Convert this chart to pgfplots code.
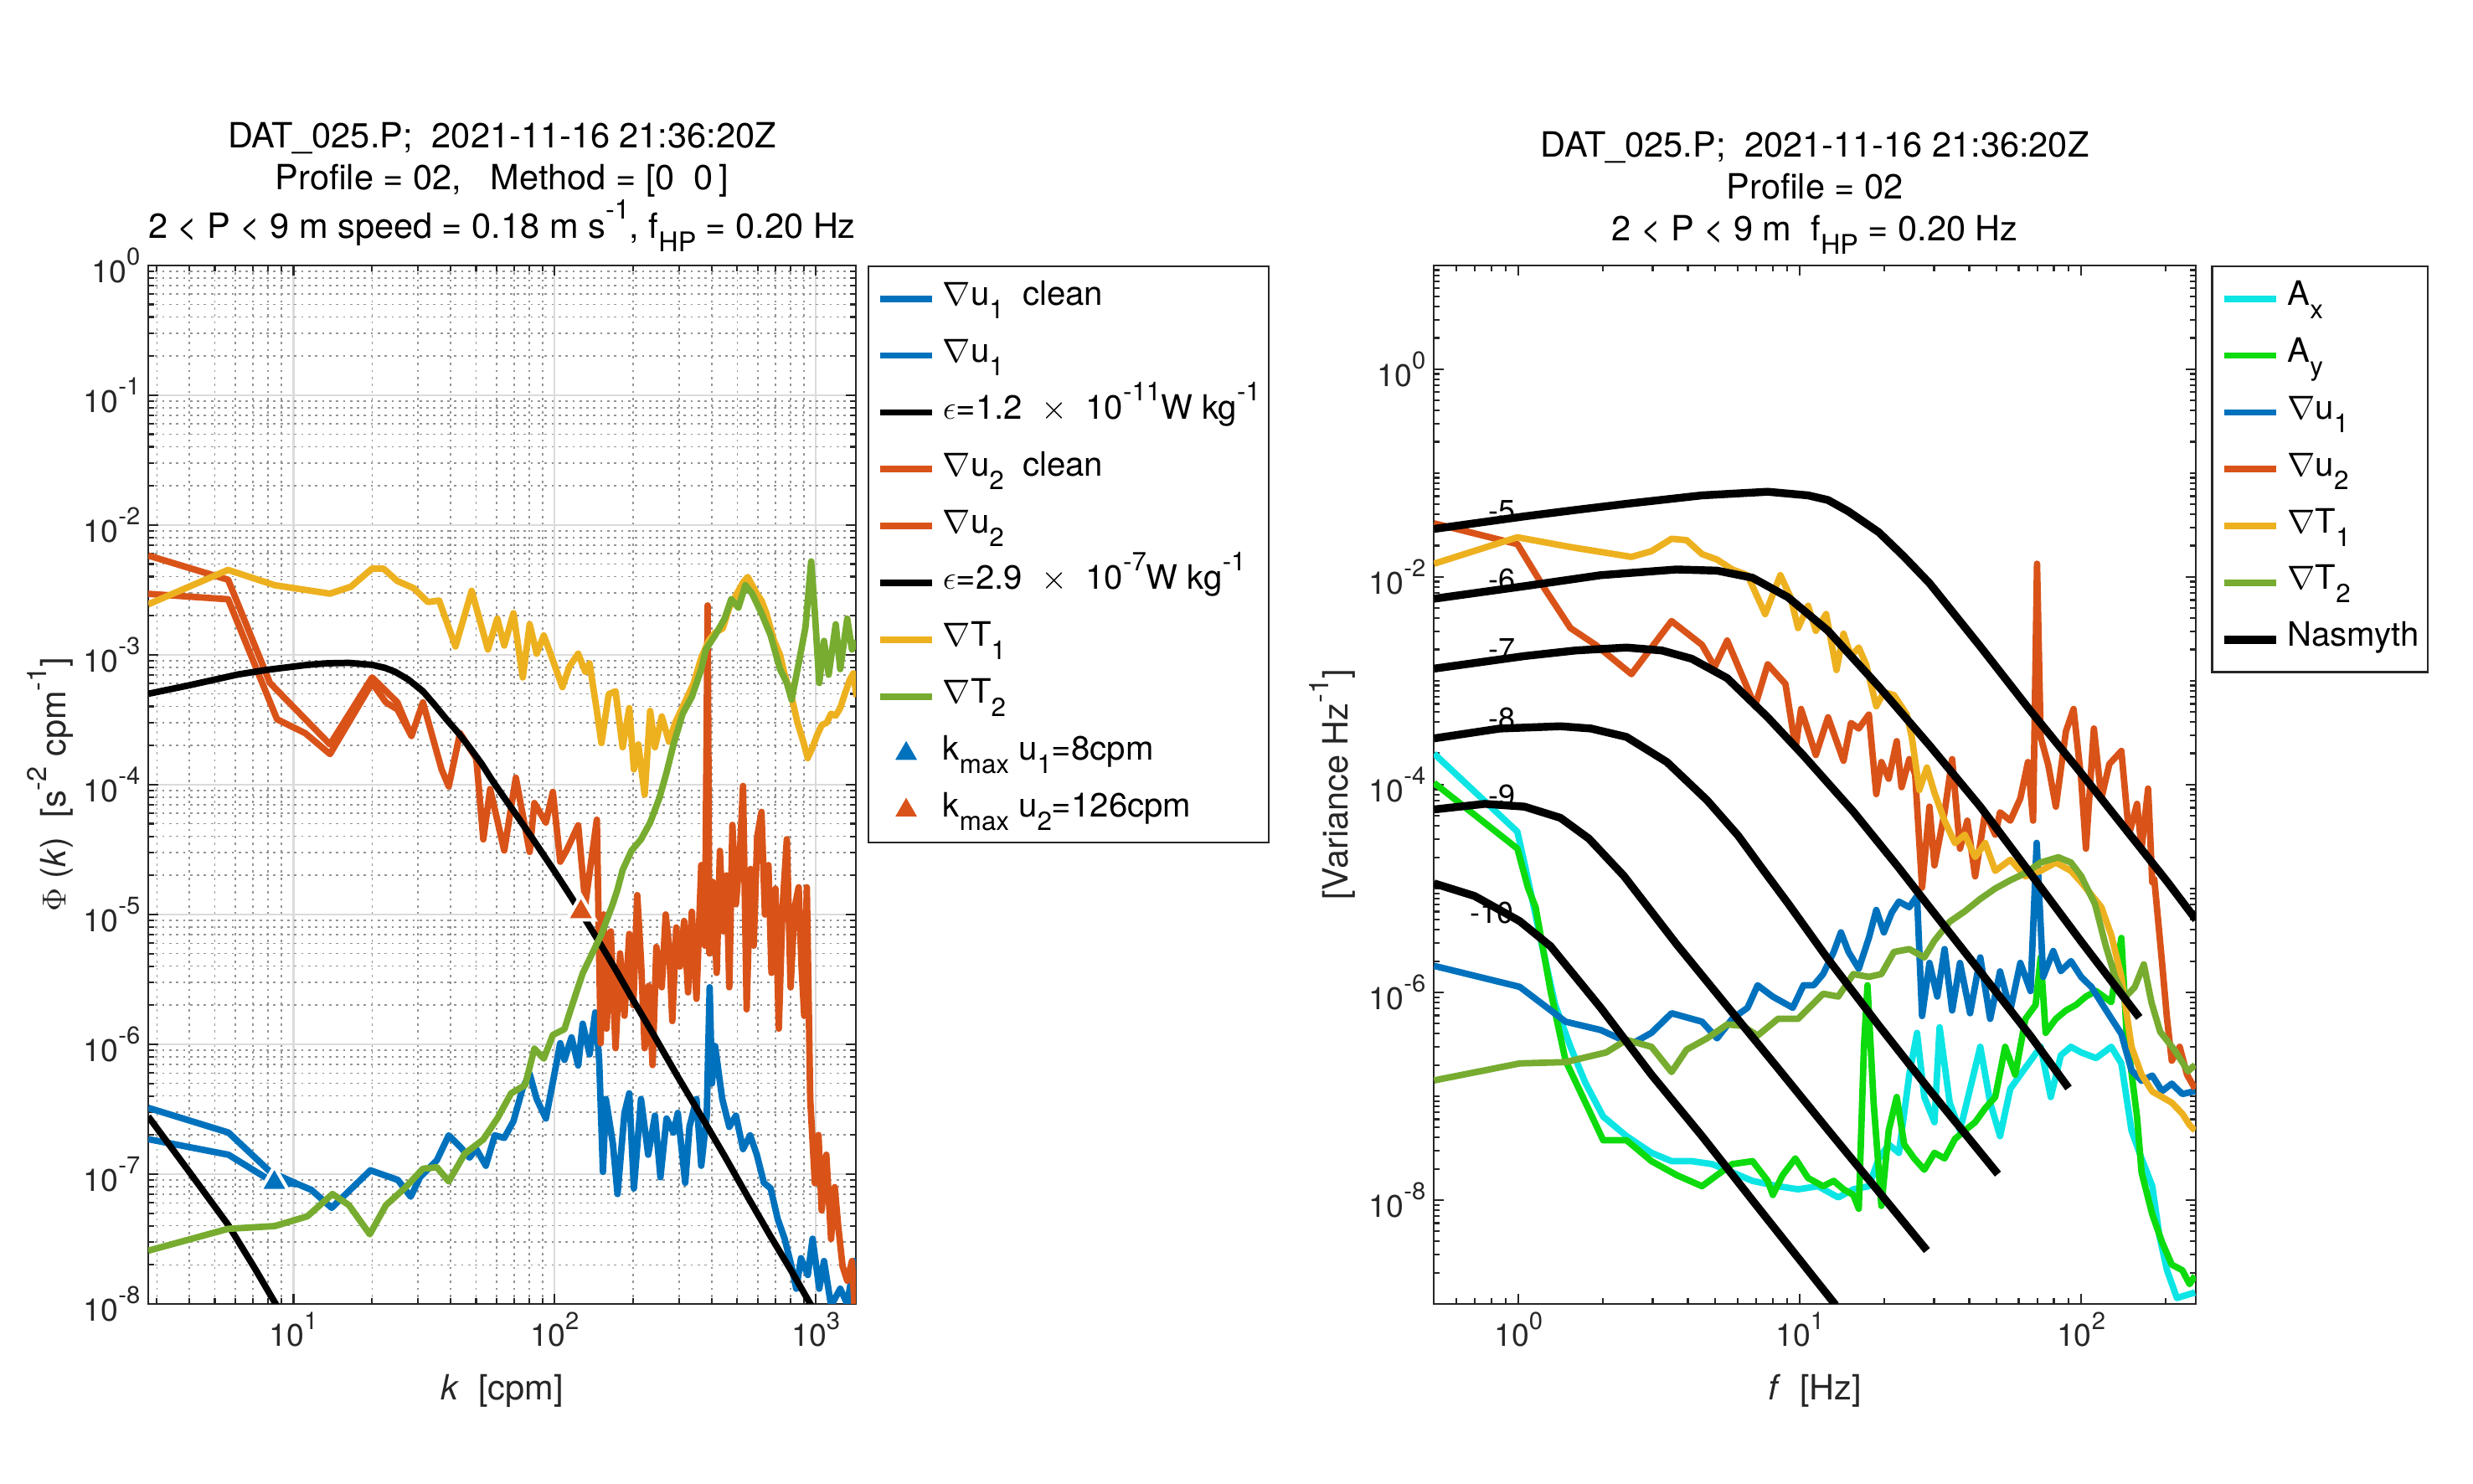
\documentclass[border=0pt]{standalone}
\usepackage{fontspec}
\setmainfont{TeX Gyre Heros}
\usepackage{graphicx}
\usepackage{pgfplots}
\pgfplotsset{compat=1.18}
\definecolor{mblue}{rgb}{0,0.447,0.741}
\definecolor{morange}{rgb}{0.85,0.325,0.098}
\definecolor{myellow}{rgb}{0.929,0.694,0.125}
\definecolor{mgreen}{rgb}{0.466,0.674,0.188}
\definecolor{mcyan}{rgb}{0.05,0.9,0.9}
\definecolor{mlime}{rgb}{0.05,0.86,0.05}
\definecolor{axgray}{gray}{0.15}
\newcommand{\tickfont}{\fontsize{13.5}{16}\selectfont}
\newcommand{\labfont}{\fontsize{15}{18}\selectfont}
\newcommand{\legfont}{\fontsize{14.5}{17}\selectfont}
\newcommand{\numfont}{\fontsize{13}{15}\selectfont}
\newcommand{\sbs}[1]{\raisebox{-0.4em}{\scalebox{0.78}{#1}}}
\newcommand{\sps}[1]{\raisebox{0.55em}{\scalebox{0.78}{#1}}}
\tikzset{myline/.style={line width=2.8pt, line join=round}}
\begin{document}
\begin{tikzpicture}
\path[use as bounding box] (0,0) rectangle (37.5cm,22.49cm);
% ================= LEFT =================
\begin{axis}[
  xmode=log, ymode=log, scale only axis,
  at={(2.248cm,2.718cm)}, anchor=south west,
  width=10.73cm, height=15.748cm,
  xmin=2.78, xmax=1422, ymin=1e-8, ymax=1,
  tick pos=both, tick align=inside,
  major tick length=0.157cm, minor tick length=0.09cm,
  tick style={axgray, line width=0.8pt},
  axis line style={axgray, line width=0.9pt},
  tick label style={font=\tickfont, text=axgray},
  title style={at={(0.5,1)}, anchor=south, font=\labfont, align=center, yshift=-0.13cm},
  xlabel style={at={(axis description cs:0.5,-0.0838)}, anchor=center, font=\labfont, text=axgray},
  ylabel style={at={(axis description cs:-0.1385,0.5)}, anchor=center, font=\labfont, text=axgray},
  legend image code/.code={\draw[mark repeat=2,mark phase=2,#1] plot coordinates {(0cm,0cm) (0.39cm,0cm) (0.787cm,0cm)};},
  legend cell align=left,
  xtick={10,100,1000},
  xticklabels={10\sps{1},10\sps{2},10\sps{3}},
  minor xtick={3,4,5,6,7,8,9,20,30,40,50,60,70,80,90,200,300,400,500,600,700,800,900},
  ytick={1e-8,1e-7,1e-6,1e-5,1e-4,1e-3,1e-2,1e-1,1},
  yticklabels={10\sps{-8},10\sps{-7},10\sps{-6},10\sps{-5},10\sps{-4},10\sps{-3},10\sps{-2},10\sps{-1},10\sps{0}},
  minor ytick={2e-8,3e-8,4e-8,5e-8,6e-8,7e-8,8e-8,9e-8,2e-7,3e-7,4e-7,5e-7,6e-7,7e-7,8e-7,9e-7,2e-6,3e-6,4e-6,5e-6,6e-6,7e-6,8e-6,9e-6,2e-5,3e-5,4e-5,5e-5,6e-5,7e-5,8e-5,9e-5,2e-4,3e-4,4e-4,5e-4,6e-4,7e-4,8e-4,9e-4,2e-3,3e-3,4e-3,5e-3,6e-3,7e-3,8e-3,9e-3,2e-2,3e-2,4e-2,5e-2,6e-2,7e-2,8e-2,9e-2,0.2,0.3,0.4,0.5,0.6,0.7,0.8,0.9},
  grid=both,
  major grid style={draw=black!14, line width=0.8pt},
  minor grid style={draw=black!42, line width=0.6pt, dash pattern=on 1pt off 2pt},
  title={DAT\_025.P;\ \ 2021-11-16 21:36:20Z\\Profile = 02,\ \ \ Method = [0\ \ 0\,]\\2 < P < 9 m speed = 0.18 m s\sps{-1}, f\sbs{HP} = 0.20 Hz},
  xlabel={\textit{k}\ \ [cpm]},
  ylabel={$\Phi$ (\textit{k})\ \ [s\sps{-2} cpm\sps{-1}]},
  legend style={at={(1,1)}, anchor=north west, xshift=0.18cm, draw=axgray, line width=0.8pt, fill=white, font=\legfont, inner xsep=0.13cm, inner ysep=0.06cm, row sep=0pt, column sep=0.11cm, nodes={inner sep=0pt, text height=0.531cm, text depth=0.331cm}},
]
\addplot[myline, mblue] coordinates {(2.78,1.86e-7) (5.64,1.41e-7) (8.32,8.71e-8) (10.4,8.36e-8)};
\addlegendentry{$\nabla$u\sbs{1}\ \ clean}
\addplot[myline, mblue] coordinates {(2.78,3.24e-7) (5.64,2.09e-7) (8.15,1.04e-7) (10.4,8.36e-8) (11.7,7.57e-8) (14.0,5.50e-8) (19.7,1.07e-7) (25.1,9.02e-8) (28.1,6.70e-8) (30.6,9.55e-8) (35.4,1.28e-7) (39.3,1.99e-7) (43.4,1.63e-7) (47.2,1.34e-7) (50.1,1.56e-7) (54.5,1.16e-7) (59.0,1.99e-7) (64.1,1.90e-7) (69.5,2.55e-7) (75.5,4.62e-7) (80.2,5.92e-7) (85.3,3.79e-7) (92.5,2.68e-7) (98.4,5.11e-7) (105,1.02e-6) (109,7.59e-7) (116,1.13e-6) (123,6.87e-7) (128,1.44e-6) (136,8.37e-7) (143,1.76e-6) (148,7.59e-7) (153,1.04e-7) (157,3.79e-7) (167,1.72e-7) (174,7.03e-8) (185,2.96e-7) (193,4.19e-7) (201,7.76e-8) (214,3.79e-7) (228,1.41e-7) (242,2.82e-7) (254,9.46e-8) (268,2.68e-7) (285,2.09e-7) (296,2.96e-7) (316,8.57e-8) (328,2.31e-7) (349,3.79e-7) (364,1.16e-7) (382,2.82e-7) (392,2.75e-6) (400,5.0e-7) (411,9.70e-7) (438,3.79e-7) (466,2.31e-7) (494,2.82e-7) (526,1.56e-7) (560,1.99e-7) (594,1.41e-7) (632,8.57e-8) (671,7.76e-8) (714,4.51e-8) (759,3.18e-8) (807,1.94e-8) (841,1.31e-8) (877,2.25e-8) (931,1.67e-8) (971,3.18e-8) (1030,1.31e-8) (1074,2.14e-8) (1143,9.70e-9) (1239,1.31e-8) (1318,1.0e-8) (1403,2.14e-8) (1432,1.26e-8)};
\addlegendentry{$\nabla$u\sbs{1}}
\addplot[myline, black] coordinates {(2.78,2.78e-7) (3.98,1.05e-7) (5.62,4.07e-8) (7.08,1.91e-8) (8.55,1.0e-8) (10,5.5e-9)};
\addlegendentry{$\epsilon$=1.2\ \ $\times$\ \ 10\sps{-11}W kg\sps{-1}}
\addplot[myline, morange] coordinates {(2.78,2.95e-3) (5.62,2.68e-3) (8.65,3.19e-4) (11.1,2.49e-4) (13.8,1.72e-4) (20.0,6.07e-4) (22.6,4.30e-4) (25.0,3.80e-4) (28.3,2.37e-4)};
\addlegendentry{$\nabla$u\sbs{2}\ \ clean}
\addplot[myline, morange] coordinates {(2.78,5.82e-3) (5.62,3.79e-3) (8.13,6.07e-4) (13.8,2.04e-4) (20.0,6.70e-4) (25.0,4.30e-4) (28.3,2.37e-4) (31.3,4.30e-4) (36.9,1.31e-4) (39.3,9.70e-5) (43.4,2.49e-4) (50.1,1.59e-4) (53.3,3.79e-5) (56.6,9.25e-5) (64.1,3.11e-5) (71.0,1.13e-4) (80.2,3.03e-5) (83.6,7.21e-5) (92.5,5.11e-5) (98.4,8.79e-5) (105,2.55e-5) (111,3.11e-5) (123,4.86e-5) (131,1.21e-5) (145,5.37e-5) (150,1.02e-6) (154,1.0e-5) (158,1.32e-6) (164,7.41e-6) (171,9.33e-7) (178,5.01e-6) (185,1.66e-6) (193,7.08e-6) (200,2.0e-6) (207,1.41e-5) (214,4.47e-6) (221,9.33e-7) (229,2.82e-6) (237,6.92e-7) (245,5.62e-6) (257,2.75e-6) (266,1.0e-5) (274,5.75e-6) (282,1.51e-6) (292,7.94e-6) (302,3.98e-6) (313,8.91e-6) (324,2.51e-6) (335,1.05e-5) (349,2.24e-6) (364,2.40e-5) (376,5.75e-6) (385,2.40e-3) (391,5.01e-6) (403,1.78e-5) (417,3.55e-6) (429,3.09e-5) (442,7.41e-6) (455,2.0e-5) (466,2.75e-6) (479,4.90e-5) (494,1.20e-5) (511,2.82e-5) (526,9.77e-5) (543,1.86e-6) (562,2.24e-5) (578,5.75e-6) (596,3.98e-5) (619,6.17e-5) (638,1.0e-5) (658,2.40e-5) (676,3.55e-6) (700,1.58e-5) (721,1.32e-6) (745,1.12e-5) (774,3.80e-5) (800,2.75e-6) (828,1.12e-5) (859,1.62e-5) (881,3.98e-6) (902,1.66e-6) (923,1.62e-5) (951,3.80e-7) (991,8.51e-8) (1023,2.0e-7) (1052,5.25e-8) (1096,1.41e-7) (1143,3.16e-8) (1180,7.94e-8) (1216,4.07e-8) (1265,1.95e-8) (1318,1.51e-8) (1374,2.14e-8) (1413,7.94e-9) (1432,1.78e-8)};
\addlegendentry{$\nabla$u\sbs{2}}
\addplot[myline, black] coordinates {(2.78,5.01e-4) (3.98,5.82e-4) (6.11,7.05e-4) (7.94,7.67e-4) (11.3,8.37e-4) (13.5,8.61e-4) (16.3,8.67e-4) (20.0,8.37e-4) (22.4,7.94e-4) (24.5,7.40e-4) (27.5,6.46e-4) (31.3,5.24e-4) (34.7,4.12e-4) (38.5,3.19e-4) (42.7,2.51e-4) (47.2,1.94e-4) (52.5,1.45e-4) (57.8,1.07e-4) (64.6,7.76e-5) (71.0,5.92e-5) (79.4,4.27e-5) (87.1,3.24e-5) (100,2.14e-5) (116,1.35e-5) (132,8.91e-6) (151,5.75e-6) (174,3.55e-6) (197,2.29e-6) (240,1.17e-6) (296,5.62e-7) (363,2.82e-7) (447,1.38e-7) (550,6.61e-8) (671,3.31e-8) (813,1.74e-8) (971,9.33e-9) (1122,5.75e-9)};
\addlegendentry{$\epsilon$=2.9\ \ $\times$\ \ 10\sps{-7}W kg\sps{-1}}
\addplot[myline, myellow] coordinates {(2.78,2.45e-3) (5.62,4.51e-3) (8.47,3.44e-3) (13.8,2.96e-3) (16.6,3.35e-3) (20.0,4.62e-3) (22.1,4.62e-3) (25.0,3.70e-3) (28.8,3.27e-3) (32.7,2.55e-3) (36.1,2.62e-3) (41.7,1.16e-3) (48.1,3.11e-3) (55.5,1.10e-3) (60.3,1.90e-3) (64.1,1.18e-3) (69.5,2.09e-3) (75.5,6.70e-4) (80.2,1.72e-3) (85.3,1.02e-3) (90.8,1.41e-3) (96.4,1.02e-3) (107,5.64e-4) (114,8.17e-4) (123,1.02e-3) (131,7.40e-4) (136,8.59e-4) (145,3.70e-4) (151,2.09e-4) (161,4.98e-4) (171,5.24e-4) (182,1.94e-4) (193,3.89e-4) (201,1.31e-4) (209,2.04e-4) (221,8.37e-5) (232,3.70e-4) (242,1.94e-4) (257,3.35e-4) (274,2.14e-4) (290,3.03e-4) (322,4.74e-4) (340,6.0e-4) (364,9.48e-4) (390,1.3e-3) (411,1.48e-3) (440,1.6e-3) (466,2.31e-3) (500,3.0e-3) (526,3.61e-3) (548,3.98e-3) (594,2.96e-3) (620,2.6e-3) (646,2.09e-3) (690,1.3e-3) (729,1.0e-3) (760,7.0e-4) (807,4.74e-4) (850,3.0e-4) (895,2.14e-4) (930,1.6e-4) (971,1.94e-4) (1010,2.4e-4) (1054,2.88e-4) (1100,3.0e-4) (1143,3.52e-4) (1190,3.4e-4) (1239,3.89e-4) (1290,5.0e-4) (1346,6.38e-4) (1390,7.2e-4) (1432,4.74e-4)};
\addlegendentry{$\nabla$T\sbs{1}}
\addplot[myline, mgreen] coordinates {(2.78,2.57e-8) (5.62,3.79e-8) (8.47,3.98e-8) (11.3,4.73e-8) (14.1,7.03e-8) (16.3,5.77e-8) (19.6,3.44e-8) (22.6,5.77e-8) (26.6,7.76e-8) (31.3,1.10e-7) (35.4,1.13e-7) (39.3,8.79e-8) (45.3,1.44e-7) (53.3,1.85e-7) (60.3,2.68e-7) (68.1,4.19e-7) (77.1,4.85e-7) (83.6,9.25e-7) (90.8,7.76e-7) (98.4,1.18e-6) (109,1.31e-6) (116,1.94e-6) (128,3.52e-6) (139,4.98e-6) (151,7.03e-6) (161,9.95e-6) (167,1.21e-5) (174,1.56e-5) (182,2.20e-5) (197,3.11e-5) (214,3.79e-5) (232,5.11e-5) (252,7.96e-5) (268,1.24e-4) (285,2.04e-4) (309,3.52e-4) (335,4.74e-4) (364,7.76e-4) (379,1.10e-3) (411,1.41e-3) (447,1.90e-3) (474,2.68e-3) (505,2.31e-3) (537,3.44e-3) (570,2.96e-3) (619,2.09e-3) (671,1.41e-3) (729,7.76e-4) (774,6.07e-4) (807,4.51e-4) (859,8.59e-4) (912,1.63e-3) (959,5.24e-3) (991,2.09e-3) (1030,6.07e-4) (1074,1.28e-3) (1119,7.03e-4) (1191,1.72e-3) (1239,7.76e-4) (1318,1.90e-3) (1374,1.10e-3) (1432,1.28e-3)};
\addlegendentry{$\nabla$T\sbs{2}}
\addplot[only marks, mark=triangle*, mark size=7pt, mark options={fill=mblue, draw=white, line width=1.5pt}] coordinates {(8.45,8.6e-8)};
\addlegendentry{k\sbs{max} u\sbs{1}=8cpm}
\addplot[only marks, mark=triangle*, mark size=7pt, mark options={fill=morange, draw=white, line width=1.5pt}] coordinates {(126,1.05e-5)};
\addlegendentry{k\sbs{max} u\sbs{2}=126cpm}
\end{axis}
% ================= RIGHT =================
\begin{axis}[
  xmode=log, ymode=log, scale only axis,
  at={(21.742cm,2.718cm)}, anchor=south west,
  width=11.557cm, height=15.748cm,
  xmin=0.5, xmax=256, ymin=1e-9, ymax=10,
  tick pos=both, tick align=inside,
  major tick length=0.157cm, minor tick length=0.09cm,
  tick style={axgray, line width=0.8pt},
  axis line style={axgray, line width=0.9pt},
  tick label style={font=\tickfont, text=axgray},
  title style={at={(0.5,1)}, anchor=south, font=\labfont, align=center, yshift=-0.17cm},
  xlabel style={at={(axis description cs:0.5,-0.0838)}, anchor=center, font=\labfont, text=axgray},
  ylabel style={at={(axis description cs:-0.133,0.5)}, anchor=center, font=\labfont, text=axgray},
  legend image code/.code={\draw[mark repeat=2,mark phase=2,#1] plot coordinates {(0cm,0cm) (0.39cm,0cm) (0.787cm,0cm)};},
  legend cell align=left,
  xtick={1,10,100},
  xticklabels={10\sps{0},10\sps{1},10\sps{2}},
  minor xtick={0.6,0.7,0.8,0.9,2,3,4,5,6,7,8,9,20,30,40,50,60,70,80,90,200},
  ytick={1e-8,1e-6,1e-4,1e-2,1},
  yticklabels={10\sps{-8},10\sps{-6},10\sps{-4},10\sps{-2},10\sps{0}},
  minor ytick={2e-9,3e-9,4e-9,5e-9,6e-9,7e-9,8e-9,9e-9,2e-8,3e-8,4e-8,5e-8,6e-8,7e-8,8e-8,9e-8,1e-7,2e-7,3e-7,4e-7,5e-7,6e-7,7e-7,8e-7,9e-7,2e-6,3e-6,4e-6,5e-6,6e-6,7e-6,8e-6,9e-6,1e-5,2e-5,3e-5,4e-5,5e-5,6e-5,7e-5,8e-5,9e-5,2e-4,3e-4,4e-4,5e-4,6e-4,7e-4,8e-4,9e-4,1e-3,2e-3,3e-3,4e-3,5e-3,6e-3,7e-3,8e-3,9e-3,2e-2,3e-2,4e-2,5e-2,6e-2,7e-2,8e-2,9e-2,0.1,0.2,0.3,0.4,0.5,0.6,0.7,0.8,0.9,2,3,4,5,6,7,8,9},
  title={DAT\_025.P;\ \ 2021-11-16 21:36:20Z\\Profile = 02\\2 < P < 9 m\ \ f\sbs{HP} = 0.20 Hz},
  xlabel={\textit{f}\ \ [Hz]},
  ylabel={[Variance Hz\sps{-1}]},
  legend style={at={(1,1)}, anchor=north west, xshift=0.23cm, draw=axgray, line width=0.8pt, fill=white, font=\legfont, inner xsep=0.13cm, inner ysep=0.06cm, row sep=0pt, column sep=0.11cm, nodes={inner sep=0pt, text height=0.531cm, text depth=0.331cm}},
]
\addplot[myline, mcyan] coordinates {(0.501,1.99e-4) (0.991,3.52e-5) (1.08,1.23e-5) (1.19,3.56e-6) (1.35,7.57e-7) (1.53,2.99e-7) (1.73,1.34e-7) (2.00,6.37e-8) (2.42,4.13e-8) (2.97,2.85e-8) (3.50,2.37e-8) (4.13,2.37e-8) (4.88,2.22e-8) (5.75,1.85e-8) (6.79,1.53e-8) (8.36,1.36e-8) (9.86,1.27e-8) (11.6,1.36e-8) (13.7,1.06e-8) (15.5,1.27e-8) (17.6,1.36e-8) (19.1,2.52e-8) (20.7,3.43e-8) (22.5,2.85e-8) (24.5,1.61e-7) (26.1,4.07e-7) (27.7,9.82e-8) (30.1,5.62e-8) (31.4,4.61e-7) (34.1,8.67e-8) (37.1,4.68e-8) (40.3,1.18e-7) (43.8,2.99e-7) (47.5,8.67e-8) (51.5,4.13e-8) (56.0,1.18e-7) (60.8,1.61e-7) (66.1,2.20e-7) (71.8,2.99e-7) (78.0,9.82e-8) (84.7,2.48e-7) (92.0,2.99e-7) (100,2.64e-7) (113,2.33e-7) (128,2.99e-7) (139,2.07e-7) (151,4.68e-8) (164,2.52e-8) (179,1.36e-8) (190,4.45e-9) (202,2.11e-9) (219,1.14e-9) (254,1.29e-9)};
\addlegendentry{A\sbs{x}}
\addplot[myline, mlime] coordinates {(0.501,1.04e-4) (0.991,2.42e-5) (1.08,1.02e-5) (1.15,6.61e-6) (1.30,1.03e-6) (1.47,2.20e-7) (1.73,8.67e-8) (2.00,3.77e-8) (2.42,3.77e-8) (2.97,2.37e-8) (3.65,1.74e-8) (4.49,1.36e-8) (5.08,1.74e-8) (5.75,2.22e-8) (6.79,2.37e-8) (7.69,1.53e-8) (8.02,1.12e-8) (8.69,1.74e-8) (9.64,2.52e-8) (10.7,1.63e-8) (12.1,1.36e-8) (13.2,1.53e-8) (14.3,1.27e-8) (15.5,1.12e-8) (16.2,8.26e-9) (16.9,2.99e-7) (17.4,1.17e-6) (18.3,8.67e-8) (19.5,8.79e-9) (20.7,4.68e-8) (22.1,9.82e-8) (23.5,3.43e-8) (25.5,2.52e-8) (27.7,1.96e-8) (30.1,2.85e-8) (32.7,2.52e-8) (35.6,3.88e-8) (38.6,4.68e-8) (42.0,5.62e-8) (45.6,7.66e-8) (49.5,9.82e-8) (53.7,2.99e-7) (58.3,1.61e-7) (63.4,5.56e-7) (68.9,7.57e-7) (71.8,2.17e-6) (74.8,4.08e-7) (81.3,5.56e-7) (88.3,6.70e-7) (95.9,7.57e-7) (104,9.12e-7) (113,1.03e-6) (128,8.05e-7) (139,3.34e-6) (145,4.08e-7) (158,6.37e-8) (164,1.85e-8) (179,7.29e-9) (194,3.93e-9) (210,2.39e-9) (229,2.11e-9) (243,1.55e-9) (254,1.87e-9)};
\addlegendentry{A\sbs{y}}
\addplot[myline, mblue] coordinates {(0.501,1.80e-6) (1.01,1.13e-6) (1.47,5.22e-7) (1.96,4.34e-7) (2.52,3.18e-7) (2.97,4.08e-7) (3.50,6.30e-7) (4.49,5.22e-7) (5.08,3.61e-7) (5.75,5.56e-7) (6.52,7.11e-7) (7.08,1.17e-6) (8.00,9.12e-7) (8.69,8.05e-7) (9.44,7.11e-7) (10.3,1.17e-6) (11.2,1.17e-6) (12.1,1.50e-6) (13.2,2.45e-6) (14.0,3.78e-6) (14.9,2.45e-6) (16.2,1.69e-6) (17.6,3.34e-6) (18.7,6.21e-6) (19.9,3.78e-6) (21.2,5.83e-6) (22.5,7.48e-6) (24.5,6.61e-6) (26.1,8.47e-6) (27.2,5.92e-7) (28.9,1.92e-6) (30.8,9.12e-7) (32.7,2.61e-6) (34.8,6.70e-7) (37.1,1.92e-6) (40.3,6.30e-7) (43.8,2.17e-6) (47.5,5.56e-7) (51.5,1.59e-6) (56.0,6.70e-7) (60.8,1.92e-6) (66.1,1.03e-6) (69.5,2.75e-5) (73.3,1.41e-6) (79.6,2.5e-6) (84.7,1.6e-6) (92.0,2.0e-6) (100,1.41e-6) (109,1.12e-6) (118,7.94e-7) (128,5.62e-7) (139,3.98e-7) (151,1.78e-7) (164,1.41e-7) (179,1.58e-7) (194,1.12e-7) (210,1.32e-7) (229,1.05e-7) (254,1.12e-7)};
\addlegendentry{$\nabla$u\sbs{1}}
\addplot[myline, morange] coordinates {(0.501,3.28e-2) (0.991,2.07e-2) (1.24,7.66e-3) (1.53,3.22e-3) (1.88,2.22e-3) (2.52,1.16e-3) (3.50,3.76e-3) (4.49,2.22e-3) (4.98,1.36e-3) (5.52,2.44e-3) (6.93,5.69e-4) (7.69,1.44e-3) (8.89,9.33e-4) (9.66,2.25e-4) (10.1,5.35e-4) (11.4,1.93e-4) (12.6,4.45e-4) (14.3,1.70e-4) (15.2,3.93e-4) (16.2,3.47e-4) (17.6,4.73e-4) (18.7,8.11e-5) (19.5,1.65e-4) (20.7,1.14e-4) (22.1,2.62e-4) (23.0,9.46e-5) (24.5,1.76e-4) (25.7,1.26e-4) (27.2,1.02e-5) (28.9,6.14e-5) (30.1,1.67e-5) (32.7,5.42e-5) (34.8,1.76e-4) (37.1,2.42e-5) (39.4,4.50e-5) (42.0,1.31e-5) (45.6,5.42e-5) (49.5,3.30e-5) (51.5,5.42e-5) (56.0,4.50e-5) (60.8,7.38e-5) (64.7,1.65e-4) (67.5,4.50e-5) (69.7,1.34e-2) (71.8,2.88e-4) (76.4,1.55e-4) (81.3,6.14e-5) (88.3,3.26e-4) (94.0,5.35e-4) (100,1.14e-4) (104,2.42e-5) (111,3.47e-4) (118,7.38e-5) (126,1.58e-4) (139,2.11e-4) (148,3.30e-5) (158,6.53e-5) (164,2.42e-5) (173,9.16e-5) (179,1.15e-5) (182,1.23e-5) (194,1.92e-6) (202,5.56e-7) (210,2.20e-7) (224,2.99e-7) (238,1.61e-7) (254,1.18e-7)};
\addlegendentry{$\nabla$u\sbs{2}}
\addplot[myline, myellow] coordinates {(0.501,1.34e-2) (0.991,2.41e-2) (1.53,1.94e-2) (2.52,1.56e-2) (2.97,1.77e-2) (3.50,2.33e-2) (3.96,2.26e-2) (4.49,1.66e-2) (5.08,1.47e-2) (5.75,1.18e-2) (6.52,1.04e-2) (7.53,4.39e-3) (8.53,1.04e-2) (9.27,6.37e-3) (9.86,3.22e-3) (10.7,5.28e-3) (11.4,3.03e-3) (12.4,4.39e-3) (13.5,1.27e-3) (14.3,2.84e-3) (15.2,1.73e-3) (16.2,2.09e-3) (17.2,1.44e-3) (18.7,5.69e-4) (19.9,7.76e-4) (21.6,7.29e-4) (24.0,4.73e-4) (25.0,2.88e-4) (26.6,8.89e-5) (28.3,1.46e-4) (30.1,8.36e-5) (32.7,4.50e-5) (35.6,2.74e-5) (38.6,3.30e-5) (42.0,2.01e-5) (45.6,2.74e-5) (49.5,1.48e-5) (56.0,1.89e-5) (63.4,1.31e-5) (71.8,1.48e-5) (81.3,1.78e-5) (92.0,1.48e-5) (100,1.15e-5) (118,6.61e-6) (128,3.55e-6) (139,1.41e-6) (151,2.99e-7) (164,1.61e-7) (179,1.11e-7) (194,9.82e-8) (210,8.67e-8) (229,6.78e-8) (243,5.28e-8) (254,4.68e-8)};
\addlegendentry{$\nabla$T\sbs{1}}
\addplot[myline, mgreen] coordinates {(0.501,1.42e-7) (1.01,2.07e-7) (1.47,2.13e-7) (2.05,2.64e-7) (2.42,3.49e-7) (2.97,2.99e-7) (3.50,1.71e-7) (3.96,2.81e-7) (4.68,3.61e-7) (5.52,4.91e-7) (6.25,4.76e-7) (7.08,3.84e-7) (8.36,5.56e-7) (9.86,5.56e-7) (12.1,9.70e-7) (13.7,9.12e-7) (15.5,1.50e-6) (17.6,1.41e-6) (19.5,1.50e-6) (21.6,2.45e-6) (24.5,2.61e-6) (27.7,2.17e-6) (30.1,3.15e-6) (34.1,4.79e-6) (38.6,6.03e-6) (43.8,7.94e-6) (49.5,1.0e-5) (56.0,1.20e-5) (63.4,1.41e-5) (71.8,1.78e-5) (83.0,2.0e-5) (92.0,1.78e-5) (100,1.32e-5) (112,7.08e-6) (122,2.88e-6) (132,1.41e-6) (143,8.91e-7) (155,1.12e-6) (167,1.86e-6) (178,7.94e-7) (191,4.17e-7) (214,2.82e-7) (240,1.74e-7) (254,2.0e-7)};
\addlegendentry{$\nabla$T\sbs{2}}
\addplot[line width=3.4pt, line join=round, black] coordinates {(0.501,2.90e-2) (1.05,3.83e-2) (1.58,4.40e-2) (2.42,5.06e-2) (4.49,6.10e-2) (7.69,6.61e-2) (10.7,6.10e-2) (12.6,5.50e-2) (14.9,4.27e-2) (19.1,2.69e-2) (23.4,1.58e-2) (28.9,8.71e-3) (43.8,2.14e-3) (66.1,5.13e-4) (100,1.29e-4) (151,3.16e-5) (202,1.17e-5) (256,5.01e-6)};
\addlegendentry{Nasmyth}
\addplot[line width=3.4pt, line join=round, black, forget plot] coordinates {(0.501,6.17e-3) (1.05,8.15e-3) (1.96,1.04e-2) (3.65,1.18e-2) (5.08,1.15e-2) (6.79,9.82e-3) (9.08,6.37e-3) (12.6,3.03e-3) (19.1,8.79e-4) (28.9,2.39e-4) (43.8,6.14e-5) (66.1,1.39e-5) (100,3.09e-6) (161,5.73e-7)};
\addplot[line width=3.4pt, line join=round, black, forget plot] coordinates {(0.501,1.31e-3) (1.05,1.73e-3) (1.60,1.96e-3) (2.42,2.09e-3) (3.23,1.96e-3) (4.13,1.63e-3) (5.52,1.06e-3) (7.69,4.45e-4) (10.3,1.91e-4) (15.5,5.50e-5) (22.5,1.58e-5) (28.9,6.61e-6) (43.8,1.58e-6) (66.1,3.80e-7) (90.2,1.20e-7)};
\addplot[line width=3.4pt, line join=round, black, forget plot] coordinates {(0.501,2.79e-4) (0.859,3.47e-4) (1.41,3.65e-4) (1.81,3.47e-4) (2.42,2.88e-4) (3.37,1.65e-4) (4.68,7.08e-5) (6.03,3.24e-5) (7.41,1.51e-5) (9.12,7.08e-6) (12.6,2.09e-6) (19.1,4.79e-7) (28.9,1.15e-7) (50.6,1.78e-8)};
\addplot[line width=3.4pt, line join=round, black, forget plot] coordinates {(0.501,5.77e-5) (0.759,6.53e-5) (1.05,6.14e-5) (1.41,4.79e-5) (1.78,3.02e-5) (2.37,1.32e-5) (3.65,2.90e-6) (5.52,7.34e-7) (8.36,1.86e-7) (12.6,4.73e-8) (19.1,1.20e-8) (28.3,3.27e-9)};
\addplot[line width=3.4pt, line join=round, black, forget plot] coordinates {(0.501,1.12e-5) (0.698,8.47e-6) (1.01,4.85e-6) (1.30,2.78e-6) (1.96,7.11e-7) (2.97,1.61e-7) (4.49,4.13e-8) (6.79,9.93e-9) (13.4,9.77e-10)};
\node[font=\numfont] at (axis cs:0.876,4.34e-2) {-5};
\node[font=\numfont] at (axis cs:0.876,9.5e-3) {-6};
\node[font=\numfont] at (axis cs:0.876,2.02e-3) {-7};
\node[font=\numfont] at (axis cs:0.876,4.31e-4) {-8};
\node[font=\numfont] at (axis cs:0.876,7.85e-5) {-9};
\node[font=\numfont] at (axis cs:0.807,5.83e-6) {-10};
\end{axis}
\end{tikzpicture}
\end{document}
